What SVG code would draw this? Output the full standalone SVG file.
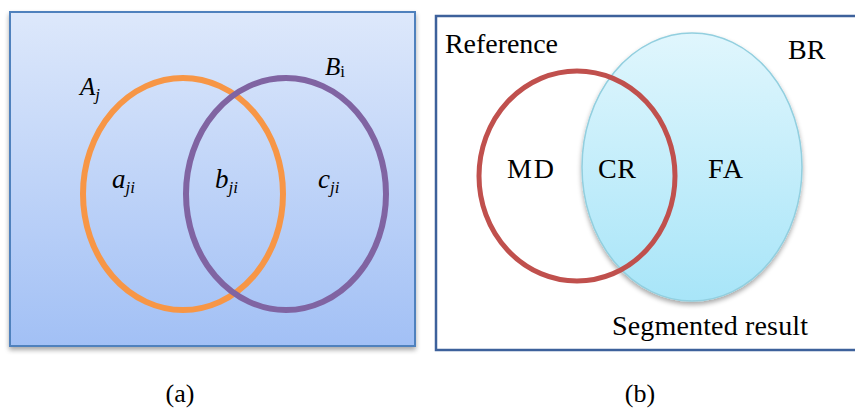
<svg xmlns="http://www.w3.org/2000/svg" width="855" height="410" viewBox="0 0 855 410" font-family="'Liberation Serif', 'Times New Roman', serif">
<defs>
<linearGradient id="gA" x1="0" y1="0" x2="0" y2="1">
<stop offset="0" stop-color="#dde8fb"/>
<stop offset="1" stop-color="#a2c0f5"/>
</linearGradient>
<linearGradient id="gB" x1="0" y1="0" x2="0" y2="1">
<stop offset="0" stop-color="#e0f6fd"/>
<stop offset="1" stop-color="#a8e5f8"/>
</linearGradient>
<filter id="sh" x="-10%" y="-10%" width="120%" height="125%">
<feGaussianBlur in="SourceAlpha" stdDeviation="2.5"/>
<feOffset dx="0" dy="3" result="b"/>
<feComponentTransfer><feFuncA type="linear" slope="0.35"/></feComponentTransfer>
<feMerge><feMergeNode/><feMergeNode in="SourceGraphic"/></feMerge>
</filter>
</defs>
<style>
text{font-family:'Liberation Serif','Times New Roman',serif;fill:#000}
.m{font-style:italic}
.s{font-size:17px}
.lbl{font-size:28px}
.cap{font-size:26px}
</style>
<g id="panel-a">
<rect x="10" y="12" width="405" height="334" fill="url(#gA)" stroke="#4f81bd" stroke-width="2" filter="url(#sh)"/>
</g>
<g id="Aj">
<ellipse cx="183" cy="194" rx="100" ry="116" fill="none" stroke="#f79646" stroke-width="6"/>
<text class="m" x="80" y="95" font-size="25">A<tspan class="s" dy="5">j</tspan></text>
</g>
<g id="Bi">
<ellipse cx="286" cy="194" rx="100" ry="116" fill="none" stroke="#8064a2" stroke-width="6"/>
<text class="m" x="325" y="75" font-size="25">B<tspan class="s" dy="2" font-style="normal">i</tspan></text>
</g>
<g id="a-labels">
<text class="m" x="112" y="188" font-size="27">a<tspan class="s" dy="5">ji</tspan></text>
<text class="m" x="215" y="188" font-size="27">b<tspan class="s" dy="5">ji</tspan></text>
<text class="m" x="318" y="188" font-size="27">c<tspan class="s" dy="5">ji</tspan></text>
</g>
<text class="cap" x="180" y="402" text-anchor="middle">(a)</text>
<g id="panel-b">
<rect x="436" y="16" width="430" height="334" fill="#fff" stroke="#3d619b" stroke-width="2.5"/>
<text class="lbl" x="445" y="53" textLength="113">Reference</text>
<text class="lbl" x="788" y="59">BR</text>
</g>
<g id="segmented">
<ellipse cx="692" cy="167" rx="110" ry="134" fill="url(#gB)" stroke="#92cfdf" stroke-width="1.5" filter="url(#sh)"/>
<text class="lbl" x="612" y="335" textLength="196">Segmented result</text>
</g>
<g id="reference">
<ellipse cx="577" cy="176" rx="98" ry="105" fill="none" stroke="#c0504d" stroke-width="5"/>
</g>
<g id="b-labels">
<text class="lbl" x="507" y="178" textLength="47">MD</text>
<text class="lbl" x="598" y="178" textLength="38">CR</text>
<text class="lbl" x="708" y="178" textLength="35">FA</text>
</g>
<text class="cap" x="640" y="402" text-anchor="middle">(b)</text>
</svg>
